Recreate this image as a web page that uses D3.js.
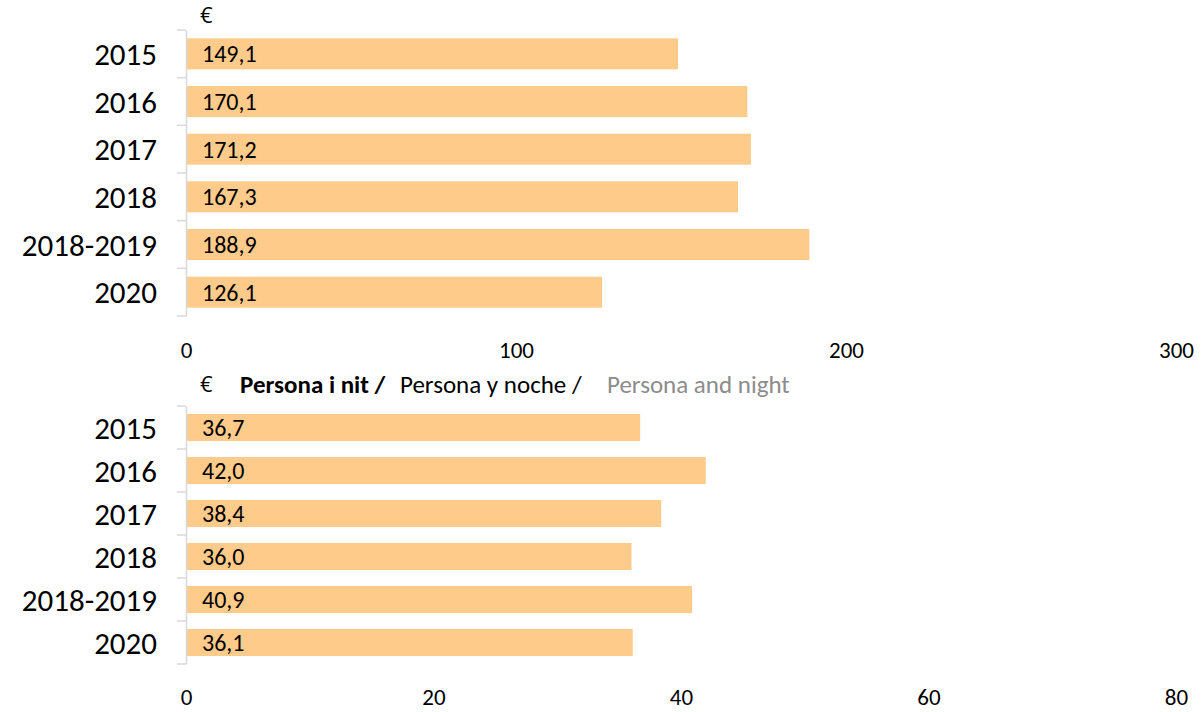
<!DOCTYPE html>
<html>
<head>
<meta charset="utf-8">
<script src="https://cdn.jsdelivr.net/npm/d3@7"></script>
<style>
  body { margin: 0; background: #fff; }
  text { font-family: Carlito, Lato, sans-serif; }
</style>
</head>
<body>
<script>
// data
const years = ["2015", "2016", "2017", "2018", "2018-2019", "2020"];
const perPerson = [149.1, 170.1, 171.2, 167.3, 188.9, 126.1];
const perNight = [36.7, 42.0, 38.4, 36.0, 40.9, 36.1];
const ticksTop = [0, 100, 200, 300];
const ticksBottom = [0, 20, 40, 60, 80];
const titleParts = ["Persona i nit /", "Persona y noche /", "Persona and night"];

const canvWidth = 1201, canvHeight = 712;
const barColor = "#fecb8b";
const axisColor = "#d9d9d9";
const fmt = v => d3.format(".1f")(v).replace(".", ",");

const svg = d3.select("body").append("svg")
    .attr("width", canvWidth)
    .attr("height", canvHeight);

// draws one horizontal bar panel
function drawPanel(values, ticks, top, bottom, padding, tickY) {
    const x = d3.scaleLinear()
        .domain([0, ticks[ticks.length - 1]])
        .range([186, 1176]);
    const y = d3.scaleBand()
        .domain(years)
        .range([top, bottom])
        .paddingInner(padding)
        .paddingOuter(padding / 2);

    const g = svg.append("g");

    g.selectAll("rect")
        .data(values)
        .enter().append("rect")
        .attr("x", x(0) + 1)
        .attr("y", (d, i) => y(years[i]))
        .attr("width", d => x(d) - x(0) - 1)
        .attr("height", y.bandwidth())
        .attr("fill", barColor);

    g.selectAll(".val")
        .data(values)
        .enter().append("text")
        .attr("class", "val")
        .attr("x", x(0) + 16)
        .attr("y", (d, i) => y(years[i]) + y.bandwidth() / 2)
        .attr("dy", "0.36em")
        .attr("font-size", "24px")
        .attr("fill", "#000")
        .text(d => fmt(d));

    // category axis
    const yAxis = g.append("g")
        .attr("transform", "translate(" + x(0) + ",0)")
        .call(d3.axisLeft(y).tickSize(0).tickSizeOuter(0).tickPadding(29));
    yAxis.select(".domain").attr("stroke", axisColor).attr("stroke-width", 1.5);
    yAxis.selectAll("text").attr("font-size", "31px").attr("fill", "#000")
        .attr("dy", "0.36em");

    // boundary ticks between categories
    const step = y.step();
    const bounds = d3.range(years.length + 1).map(i => top + i * step);
    g.selectAll(".bt")
        .data(bounds)
        .enter().append("line")
        .attr("x1", x(0) - 9)
        .attr("x2", x(0))
        .attr("y1", d => d)
        .attr("y2", d => d)
        .attr("stroke", axisColor)
        .attr("stroke-width", 1.5);

    // value axis (labels only)
    const xAxis = g.append("g")
        .attr("transform", "translate(0," + tickY + ")")
        .call(d3.axisBottom(x).tickValues(ticks).tickSize(0).tickPadding(0));
    xAxis.select(".domain").remove();
    xAxis.selectAll("text").attr("font-size", "23px").attr("fill", "#000")
        .attr("dy", "0.36em");
    return g;
}

drawPanel(perPerson, ticksTop, 30, 316, 0.35, 350);
drawPanel(perNight, ticksBottom, 406, 664, 0.37, 697);

// unit labels
[15, 384].forEach(yy => {
    svg.append("text")
        .attr("x", 200).attr("y", yy).attr("dy", "0.36em")
        .attr("font-size", "22px")
        .style("font-family", "'Open Sans', sans-serif")
        .text("€");
});

const title = svg.append("text")
    .attr("y", 384).attr("dy", "0.36em")
    .attr("font-size", "25px");
title.append("tspan").attr("x", 240).attr("font-weight", "bold").attr("fill", "#000").text(titleParts[0]);
title.append("tspan").attr("x", 400).attr("fill", "#000").text(titleParts[1]);
title.append("tspan").attr("x", 607).attr("fill", "#8c8c8c").text(titleParts[2]);
</script>
</body>
</html>
